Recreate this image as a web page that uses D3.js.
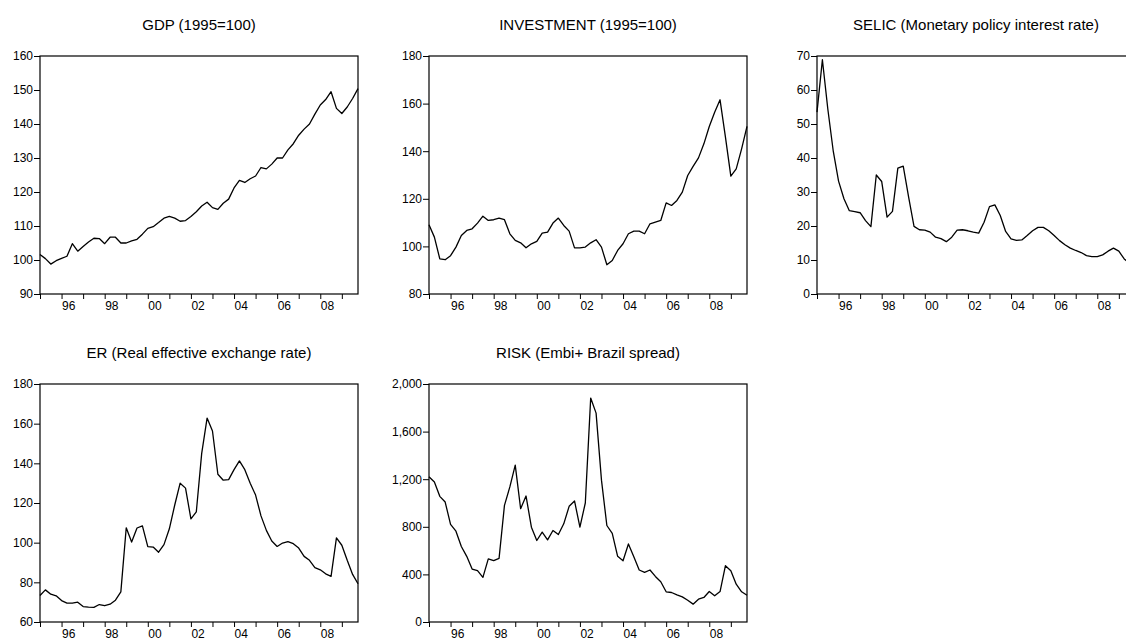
<!DOCTYPE html>
<html>
<head>
<meta charset="utf-8">
<script src="https://cdn.jsdelivr.net/npm/d3@7"></script>
<style>
body { margin: 0; background: #fff; }
svg { display: block; font-family: Arial, "Liberation Sans", sans-serif; }
.axis path, .axis line { stroke: #000; stroke-width: 1; }
.axis text { font-size: 12px; fill: #000; }
.title { font-size: 15px; fill: #000; }
</style>
</head>
<body>
<div id="chart"></div>
<script>
var width = 1126;
var height = 642;

var panelW = 318;
var panelH = 238;

// quarterly data 1995Q1 - 2009Q4
var quarters = [];
for (var y = 1995; y <= 2009; y++) {
  for (var q = 1; q <= 4; q++) quarters.push(y + "Q" + q);
}

var yearLabels = ["96", "98", "00", "02", "04", "06", "08"];

var gdp = [101.6, 100.4, 98.8, 99.8, 100.5, 101.1, 104.8, 102.6, 104.0, 105.3,
  106.4, 106.3, 104.8, 106.7, 106.7, 105.0, 105.0, 105.6, 106.1, 107.6,
  109.3, 109.8, 111.0, 112.3, 112.8, 112.3, 111.4, 111.6, 112.8, 114.2,
  115.9, 117.0, 115.4, 114.9, 116.7, 117.9, 121.2, 123.4, 122.8, 123.9,
  124.7, 127.2, 126.8, 128.2, 130.0, 130.0, 132.4, 134.2, 136.7, 138.5,
  140.0, 142.9, 145.6, 147.2, 149.5, 144.6, 143.1, 145.0, 147.5, 150.4];

var investment = [109.1, 103.9, 94.8, 94.4, 96.1, 99.7, 104.6, 106.7, 107.4, 109.8,
  112.7, 110.9, 111.2, 111.9, 111.2, 105.3, 102.5, 101.5, 99.4, 101.1,
  102.1, 105.6, 106.0, 109.8, 111.9, 108.8, 106.4, 99.4, 99.4, 99.7,
  101.5, 102.8, 99.7, 92.3, 94.1, 98.3, 101.1, 105.3, 106.4, 106.4,
  105.3, 109.5, 110.2, 110.9, 118.3, 117.2, 119.3, 122.8, 129.8, 133.6,
  137.2, 143.1, 150.4, 156.4, 161.6, 145.9, 129.5, 132.6, 141.0, 150.4];

var selic = [53.5, 68.9, 54.5, 42.2, 33.2, 28.0, 24.5, 24.2, 23.9, 21.6,
  19.8, 35.0, 33.1, 22.6, 24.3, 37.0, 37.6, 28.5, 19.9, 18.9,
  18.8, 18.2, 16.7, 16.3, 15.4, 16.7, 18.8, 18.9, 18.6, 18.2,
  17.9, 21.1, 25.7, 26.2, 23.1, 18.4, 16.2, 15.8, 15.9, 17.2,
  18.6, 19.6, 19.6, 18.6, 17.2, 15.7, 14.5, 13.5, 12.8, 12.2,
  11.3, 11.0, 11.0, 11.5, 12.6, 13.5, 12.6, 10.3, 9.0, 8.75];

var er = [73.4, 76.2, 74.0, 73.2, 70.8, 69.5, 69.5, 70.0, 67.8, 67.5,
  67.4, 68.8, 68.2, 69.0, 71.0, 75.2, 107.5, 100.3, 107.4, 108.5,
  98.0, 97.8, 95.2, 99.0, 107.0, 119.0, 130.0, 127.5, 112.0, 115.5,
  145.0, 162.8, 156.3, 134.5, 131.5, 131.8, 136.8, 141.2, 136.8, 130.0,
  124.0, 113.5, 106.2, 100.8, 98.1, 99.8, 100.5, 99.5, 97.3, 93.1,
  91.1, 87.4, 86.3, 84.3, 83.0, 102.4, 98.7, 91.1, 84.0, 79.3];

var risk = [1220, 1177, 1056, 1008, 820, 763, 634, 552, 445, 431,
  375, 530, 515, 535, 980, 1135, 1318, 952, 1059, 797,
  685, 755, 690, 769, 735, 825, 972, 1017, 797, 1000,
  1882, 1755, 1192, 811, 744, 552, 515, 656, 549, 437,
  417, 437, 383, 338, 254, 248, 228, 211, 183, 150,
  192, 206, 256, 220, 256, 473, 431, 318, 254, 225];

var gdpTicks = [90, 100, 110, 120, 130, 140, 150, 160];
var investmentTicks = [80, 100, 120, 140, 160, 180];
var selicTicks = [0, 10, 20, 30, 40, 50, 60, 70];
var erTicks = [60, 80, 100, 120, 140, 160, 180];
var riskTicks = [0, 400, 800, 1200, 1600, 2000];

var panels = [
  { title: "GDP (1995=100)", values: gdp, ticks: gdpTicks, x: 40, y: 56 },
  { title: "INVESTMENT (1995=100)", values: investment, ticks: investmentTicks, x: 429, y: 56 },
  { title: "SELIC (Monetary policy interest rate)", values: selic, ticks: selicTicks, x: 817, y: 56 },
  { title: "ER (Real effective exchange rate)", values: er, ticks: erTicks, x: 40, y: 384 },
  { title: "RISK (Embi+ Brazil spread)", values: risk, ticks: riskTicks, x: 429, y: 384, fmt: d3.format(",") }
];

var svg = d3.select("#chart")
  .append("svg")
  .attr("width", width)
  .attr("height", height);

var xScale = d3.scaleLinear()
  .domain([0, quarters.length - 1])
  .range([0, panelW]);

// a tick at the first quarter of each year
var yearTicks = d3.range(0, quarters.length, 4);

panels.forEach(function(p) {
  var g = svg.append("g")
    .attr("transform", "translate(" + p.x + "," + p.y + ")");

  var yScale = d3.scaleLinear()
    .domain([p.ticks[0], p.ticks[p.ticks.length - 1]])
    .range([panelH, 0]);

  g.append("text")
    .attr("class", "title")
    .attr("x", panelW / 2)
    .attr("y", -26)
    .attr("text-anchor", "middle")
    .text(p.title);

  var yAxis = d3.axisLeft(yScale)
    .tickValues(p.ticks)
    .tickSize(6)
    .tickPadding(1)
    .tickFormat(p.fmt || d3.format("d"));

  g.append("g").attr("class", "axis").call(yAxis)
    .select(".domain").remove();

  var xAxis = d3.axisBottom(xScale)
    .tickValues(yearTicks)
    .tickSize(5)
    .tickPadding(2)
    .tickFormat(function(d) {
      var yr = 1995 + d / 4;
      return yr % 2 === 0 ? yearLabels[(yr - 1996) / 2] : "";
    });

  var xg = g.append("g").attr("class", "axis")
    .attr("transform", "translate(0," + panelH + ")")
    .call(xAxis);
  xg.select(".domain").remove();
  xg.selectAll("text").attr("text-anchor", "start").attr("x", 0);

  g.append("rect")
    .attr("width", panelW)
    .attr("height", panelH)
    .attr("fill", "none")
    .attr("stroke", "#000")
    .attr("stroke-width", 1.2);

  var line = d3.line()
    .x(function(d, i) { return xScale(i); })
    .y(function(d) { return yScale(d); });

  g.append("path")
    .datum(p.values)
    .attr("d", line)
    .attr("fill", "none")
    .attr("stroke", "#000")
    .attr("stroke-width", 1.3)
    .attr("stroke-linejoin", "round");
});
</script>
</body>
</html>
